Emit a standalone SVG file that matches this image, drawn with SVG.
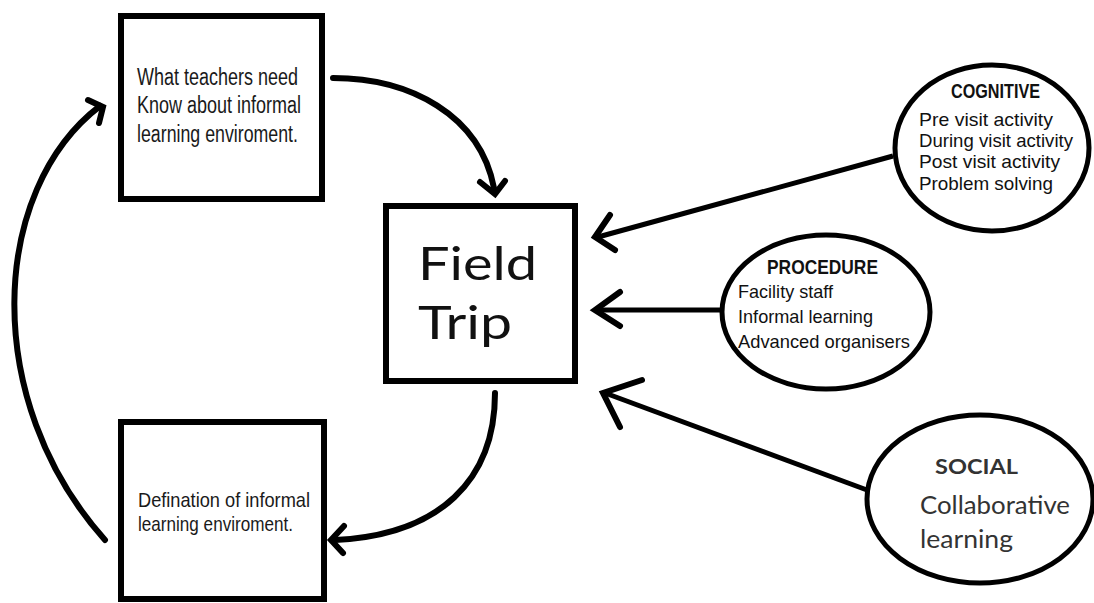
<svg xmlns="http://www.w3.org/2000/svg" width="1094" height="603" viewBox="0 0 1094 603">
<style>
.box{fill:#fff;stroke:#000;stroke-width:6}
.ell{fill:#fff;stroke:#000;stroke-width:5}
.con{fill:none;stroke:#000;stroke-width:6;stroke-linecap:round}
.line{fill:none;stroke:#000;stroke-width:5}
.head{fill:none;stroke:#000;stroke-width:6;stroke-linecap:round;stroke-linejoin:miter}
.nar{font-family:"Liberation Sans",Arial,sans-serif;fill:#1a1a1a}
.sm{font-family:"Liberation Sans",Arial,sans-serif;font-size:19px;fill:#111}
.hd{font-family:"Liberation Sans",Arial,sans-serif;font-size:21px;font-weight:bold;fill:#111}
.big{font-family:Lato,"Open Sans",sans-serif;font-size:47px;fill:#111}
.soc{font-family:Lato,"Open Sans",sans-serif;fill:#333}
</style>
<rect width="1094" height="603" fill="#fff"/>
<g id="connectors">
<path class="con" d="M333,78 C410,78 480,115 494,188"/>
<path class="head" d="M480,182 L495,194 L505,181"/>
<path class="con" d="M495,393 C495,480 440,535 335,540"/>
<path class="head" d="M344,526 L331,540 L343,553"/>
<path class="con" d="M105,540 C-20,400 -10,190 100,106"/>
<path class="head" d="M88,100 L103,107 L99,123"/>
<path class="line" d="M893,156 L598,237"/>
<path class="head" d="M610,215 L595,237 L615,250"/>
<path class="line" d="M722,310 L598,310"/>
<path class="head" d="M620,292 L595,310 L620,326"/>
<path class="line" d="M867,490 L605,393"/>
<path class="head" d="M642,380 L603,393 L620,427"/>
</g>
<g id="node-teachers">
<rect class="box" x="121" y="16" width="201" height="183"/>
<text class="nar" font-size="23" x="137" y="85" textLength="161" lengthAdjust="spacingAndGlyphs">What teachers need</text>
<text class="nar" font-size="23" x="137" y="113" textLength="164" lengthAdjust="spacingAndGlyphs">Know about informal</text>
<text class="nar" font-size="23" x="137" y="142" textLength="161" lengthAdjust="spacingAndGlyphs">learning enviroment.</text>
</g>
<g id="node-fieldtrip">
<rect class="box" x="386" y="206" width="189" height="175"/>
<text class="big" x="418" y="280" textLength="119" lengthAdjust="spacingAndGlyphs">Field</text>
<text class="big" x="418" y="339" textLength="94" lengthAdjust="spacingAndGlyphs">Trip</text>
</g>
<g id="node-definition">
<rect class="box" x="121" y="422" width="203" height="177"/>
<text class="nar" font-size="21" x="138" y="507" textLength="172" lengthAdjust="spacingAndGlyphs">Defination of informal</text>
<text class="nar" font-size="21" x="138" y="531" textLength="155" lengthAdjust="spacingAndGlyphs">learning enviroment.</text>
</g>
<g id="node-cognitive">
<ellipse class="ell" cx="992" cy="148" rx="97" ry="83"/>
<text class="hd" x="951" y="98" textLength="89" lengthAdjust="spacingAndGlyphs">COGNITIVE</text>
<text class="sm" x="919" y="126" textLength="134" lengthAdjust="spacingAndGlyphs">Pre visit activity</text>
<text class="sm" x="919" y="147" textLength="154" lengthAdjust="spacingAndGlyphs">During visit activity</text>
<text class="sm" x="919" y="168" textLength="141" lengthAdjust="spacingAndGlyphs">Post visit activity</text>
<text class="sm" x="919" y="190" textLength="134" lengthAdjust="spacingAndGlyphs">Problem solving</text>
</g>
<g id="node-procedure">
<ellipse class="ell" cx="826" cy="312" rx="104" ry="77"/>
<text class="hd" x="767" y="274" textLength="111" lengthAdjust="spacingAndGlyphs">PROCEDURE</text>
<text class="sm" font-size="20" x="738" y="298" textLength="95" lengthAdjust="spacingAndGlyphs">Facility staff</text>
<text class="sm" font-size="20" x="738" y="323" textLength="135" lengthAdjust="spacingAndGlyphs">Informal learning</text>
<text class="sm" font-size="20" x="738" y="348" textLength="172" lengthAdjust="spacingAndGlyphs">Advanced organisers</text>
</g>
<g id="node-social">
<ellipse class="ell" cx="980" cy="499" rx="113" ry="84" stroke-width="6"/>
<text class="soc" font-size="21" font-weight="bold" x="935" y="474" textLength="83" lengthAdjust="spacingAndGlyphs">SOCIAL</text>
<text class="soc" font-size="25" x="920" y="514" textLength="150" lengthAdjust="spacingAndGlyphs">Collaborative</text>
<text class="soc" font-size="25" x="920" y="548" textLength="93" lengthAdjust="spacingAndGlyphs">learning</text>
</g>
</svg>
